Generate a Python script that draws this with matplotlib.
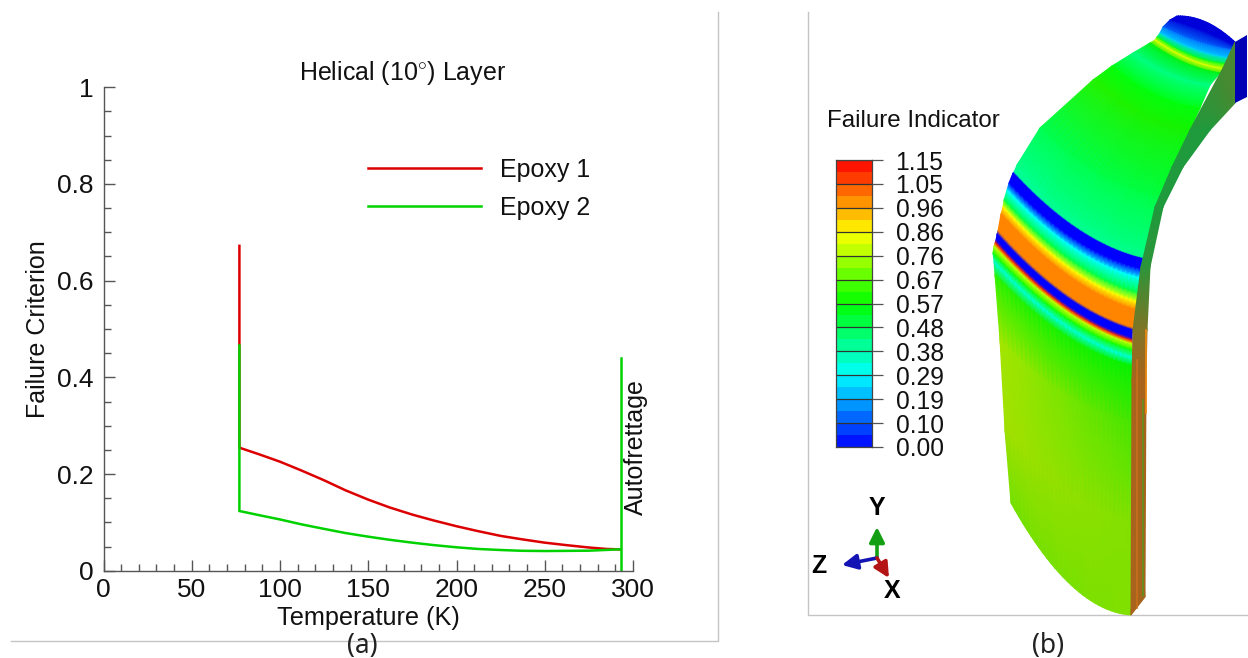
import numpy as np
import matplotlib
matplotlib.use('Agg')
import matplotlib.pyplot as plt
from matplotlib.colors import LinearSegmentedColormap, ListedColormap, BoundaryNorm
from matplotlib.patches import Polygon

plt.rcParams['font.family'] = ['Liberation Sans', 'DejaVu Sans']
plt.rcParams['mathtext.fontset'] = 'custom'
plt.rcParams['mathtext.rm'] = 'Liberation Sans'
plt.rcParams['mathtext.default'] = 'rm'

# === Panel (a) data ===
temp_epoxy1 = [77, 77, 88, 100, 112, 125, 137, 150, 162, 175, 187, 200, 212, 225, 237, 250, 262, 275, 285, 293]
crit_epoxy1 = [0.672, 0.2545, 0.241, 0.2255, 0.2075, 0.187, 0.1665, 0.147, 0.131, 0.116, 0.104, 0.092,
               0.082, 0.072, 0.065, 0.058, 0.053, 0.048, 0.045, 0.044]
temp_epoxy2 = [77, 77, 88, 100, 112, 125, 137, 150, 162, 175, 187, 200, 212, 225, 237, 250, 262, 275, 285, 293]
crit_epoxy2 = [0.466, 0.1235, 0.115, 0.106, 0.096, 0.0865, 0.078, 0.0704, 0.064, 0.058, 0.053, 0.0484,
               0.045, 0.0428, 0.0412, 0.0407, 0.041, 0.0414, 0.043, 0.0443]
temp_autofrettage = [293, 293]
crit_autofrettage = [0.0, 0.44]

x_major = [0, 50, 100, 150, 200, 250, 300]
x_labels = ['0', '50', '100', '150', '200', '250', '300']
y_major = [0, 0.2, 0.4, 0.6, 0.8, 1.0]
y_labels = ['0', '0.2', '0.4', '0.6', '0.8', '1']

# === Panel (b) legend data ===
level_ticks = [0.0, 0.096, 0.192, 0.288, 0.383, 0.479, 0.575, 0.671, 0.767, 0.863, 0.958, 1.054, 1.15]
level_labels = ['0.00', '0.10', '0.19', '0.29', '0.38', '0.48', '0.57', '0.67', '0.76', '0.86', '0.96', '1.05', '1.15']
n_bands = 24

# === Panel (b) rendered part: bands across the outer face, top to bottom ===
# left x, left y, right x, right y, bow of the band, value left, value right, shade
face_rows = [
    (1177, 16, 1235, 42, -7, 0.00, 0.00, 0.85),
    (1170, 20, 1234, 46, -2, 0.00, 0.00, 0.85),
    (1163, 27, 1232, 50, 3, 0.13, 0.13, 1.0),
    (1160, 33, 1229, 58, 4, 0.24, 0.24, 1.0),
    (1157, 37, 1226, 64, 5, 0.55, 0.55, 1.0),
    (1155, 40, 1224, 69, 5, 0.85, 0.85, 1.0),
    (1150, 43, 1220, 73, 5, 0.56, 0.56, 0.95),
    (1133, 53, 1210, 85, 6, 0.42, 0.42, 1.0),
    (1112, 66, 1200, 108, 8, 0.56, 0.56, 1.0),
    (1093, 80, 1190, 130, 10, 0.62, 0.60, 0.95),
    (1040, 128, 1160, 197, 13, 0.48, 0.50, 1.0),
    (1017, 165, 1146, 250, 14, 0.42, 0.43, 1.0),
    (1014, 172, 1144, 258, 14, 0.40, 0.42, 1.0),
    (1013, 173, 1143.5, 259, 14, 0.00, 0.00, 1.0),
    (1009, 183, 1142, 269, 14, 0.00, 0.00, 1.0),
    (1007, 190, 1140, 278, 14, 0.29, 0.29, 1.0),
    (1004, 200, 1139, 293, 14, 0.50, 0.50, 1.0),
    (1003, 207, 1137, 302, 14, 0.86, 0.86, 1.0),
    (1001, 214, 1136, 310, 14, 1.00, 1.00, 1.0),
    (998, 231, 1133, 328, 14, 1.00, 1.00, 1.0),
    (997, 234, 1132.5, 330, 14, 0.00, 0.00, 1.0),
    (996, 240, 1132, 338, 14, 0.00, 0.00, 1.0),
    (995, 243, 1132, 341, 14, 1.10, 1.10, 1.0),
    (994, 246, 1132, 344, 14, 0.80, 0.80, 1.0),
    (993, 253, 1132, 350, 14, 0.60, 0.60, 1.0),
    (994, 262, 1132, 358, 14, 0.33, 0.33, 1.0),
    (995, 275, 1132, 366, 14, 0.62, 0.58, 0.95),
    (1000, 340, 1132, 420, 14, 0.78, 0.66, 0.90),
    (1005, 430, 1131, 520, 16, 0.78, 0.74, 0.88),
    (1011, 503, 1131, 615, 26, 0.72, 0.74, 0.88),
]
# inner x, inner y, outer x, outer y, colour position (0 green, 1 brown)
side_rows = [
    (1235, 42, 1235, 60, 0.3),
    (1223, 68, 1235, 103, 0.3),
    (1190, 130, 1210, 130, 0.0),
    (1172, 167, 1183, 167, 0.0),
    (1155, 207, 1163, 207, 0.0),
    (1141, 267, 1150, 267, 0.1),
    (1133, 330, 1147, 330, 0.7),
    (1132, 380, 1146, 380, 1.0),
    (1131, 615, 1145, 597, 1.0),
]
# x, top y, bottom y, colour of the thin stripes along the side
side_stripes = [
    (1146, 330, 413, '#f08a10'),
    (1143, 400, 596, '#5f8f1e'),
    (1137, 360, 608, '#c8701a'),
]

rainbow = LinearSegmentedColormap.from_list(
    'rainbow_tec',
    [(0.0, '#0000ff'), (0.25, '#00ffff'), (0.5, '#00ff00'), (0.75, '#ffff00'), (1.0, '#ff0000')],
)
side_cmap = LinearSegmentedColormap.from_list('side', ['#1f9a3c', '#a8641c'])

fig = plt.figure(figsize=(12.48, 6.58), dpi=100)

# Full figure canvas in pixels, for the borders, the render and free text
canvas = fig.add_axes([0, 0, 1, 1])
canvas.set_xlim(0, 1248)
canvas.set_ylim(658, 0)
canvas.axis('off')

canvas.plot([718, 718, 11], [12, 641, 641], color='#c4c4c4', lw=1)
canvas.plot([808, 808, 1248], [12, 615, 615], color='#c4c4c4', lw=1)


def band_mesh(rows, n_cols=31):
    rows = np.array(rows, dtype=float)
    s = np.linspace(0, 1, n_cols)[None, :]
    xx = rows[:, [0]] + (rows[:, [2]] - rows[:, [0]]) * s
    yy = rows[:, [1]] + (rows[:, [3]] - rows[:, [1]]) * s + 4 * rows[:, [4]] * s * (1 - s)
    vals = rows[:, [5]] + (rows[:, [6]] - rows[:, [5]]) * s
    rgb = rainbow(vals / 1.15)[..., :3] * rows[:, [7]][..., None]
    return xx, yy, rgb


# === Rendered failure indicator surface ===
xx, yy, rgb = band_mesh(face_rows)
canvas.pcolormesh(xx, yy, rgb, shading='gouraud', zorder=2)

side = np.array(side_rows, dtype=float)
canvas.pcolormesh(side[:, [0, 2]], side[:, [1, 3]], side[:, [4, 4]], cmap=side_cmap, vmin=0, vmax=1,
                  shading='gouraud', zorder=2)
for stripe_x, stripe_top, stripe_bottom, stripe_colour in side_stripes:
    canvas.plot([stripe_x, stripe_x], [stripe_top, stripe_bottom], color=stripe_colour, lw=1.2, zorder=3)
canvas.add_patch(Polygon([(1235, 42), (1247, 35), (1247, 97), (1235, 103)],
                         closed=True, color='#0000b4', lw=0, zorder=3))

# Axis triad
for end, colour in zip([(877, 527), (842, 565), (889, 578)], ['#12a012', '#1414b4', '#b41414']):
    canvas.annotate('', xy=end, xytext=(877, 558), zorder=4,
                    arrowprops=dict(arrowstyle='-|>,head_width=0.45,head_length=0.9',
                                    color=colour, lw=2.6, shrinkA=0, shrinkB=0))
canvas.text(877, 508, 'Y', fontsize=18, fontweight='bold', ha='center', va='center')
canvas.text(819, 566, 'Z', fontsize=18, fontweight='bold', ha='center', va='center')
canvas.text(892, 591, 'X', fontsize=18, fontweight='bold', ha='center', va='center')

canvas.text(913, 121, 'Failure Indicator', fontsize=17.4, color='#111111', ha='center', va='center')

# Panel captions and free labels
canvas.text(362, 646, '(a)', family='Noto Sans', fontsize=19, color='#222222', ha='center', va='center')
canvas.text(1048, 646, '(b)', family='Noto Sans', fontsize=19, color='#222222', ha='center', va='center')
canvas.text(403, 73, r'Helical (10$^{\circ}$) Layer', fontsize=18, color='#111111', ha='center', va='center')
canvas.text(636, 447, 'Autofrettage', fontsize=18, color='#111111', rotation=90, ha='center', va='center')

# === Panel (a) chart ===
ax = fig.add_axes([103.5 / 1248, 1 - 570.7 / 658, (633 - 103.5) / 1248, (570.7 - 87.3) / 658])
ax.patch.set_alpha(0)
ax.plot(temp_epoxy1, crit_epoxy1, color='#dc0000', lw=1.8, label='Epoxy 1', solid_joinstyle='miter')
ax.plot(temp_epoxy2, crit_epoxy2, color='#00d200', lw=1.8, label='Epoxy 2', solid_joinstyle='miter')
ax.plot(temp_autofrettage, crit_autofrettage, color='#00d200', lw=1.8)
ax.set_xlim(0, 300)
ax.set_ylim(0, 1)
ax.spines['top'].set_visible(False)
ax.spines['right'].set_visible(False)
for side_name in ['left', 'bottom']:
    ax.spines[side_name].set_color('#555555')
    ax.spines[side_name].set_linewidth(1)
ax.set_xticks(x_major, x_labels)
ax.set_yticks(y_major, y_labels)
ax.set_xticks(np.arange(0, 301, 10), minor=True)
ax.set_yticks(np.arange(0, 1.001, 0.05), minor=True)
ax.tick_params(which='major', direction='in', length=8, width=1, color='#555555',
               labelsize=19, labelcolor='#111111')
ax.tick_params(which='minor', direction='in', length=5, width=1, color='#555555')
ax.tick_params(axis='x', which='major', pad=5)
ax.tick_params(axis='y', which='major', pad=7)
ax.set_xlabel('Temperature (K)', fontsize=18.2, color='#111111', va='center')
ax.set_ylabel('Failure Criterion', fontsize=18, color='#111111', va='center')
ax.xaxis.set_label_coords(368, 618, transform=canvas.transData)
ax.yaxis.set_label_coords(38, 329, transform=canvas.transData)
ax.legend(frameon=False, loc='upper left', bbox_to_anchor=(368, 158), bbox_transform=canvas.transData,
          fontsize=18, handlelength=4.5, handletextpad=0.76, labelspacing=0.55,
          borderpad=0, borderaxespad=0, labelcolor='#111111')

# === Panel (b) contour legend ===
cax = fig.add_axes([836 / 1248, 1 - 447 / 658, 36 / 1248, 287 / 658])
edges = np.linspace(0, 1.15, n_bands + 1)
band_colours = rainbow((edges[:-1] + edges[1:]) / 2 / 1.15)
cax.pcolormesh([0, 1], edges, ((edges[:-1] + edges[1:]) / 2)[:, None],
               cmap=ListedColormap(band_colours), norm=BoundaryNorm(edges, n_bands))
cax.hlines(level_ticks, 0, 1, color='#333333', lw=0.9)
cax.set_xlim(0, 1)
cax.set_ylim(0, 1.15)
cax.set_xticks([])
cax.yaxis.tick_right()
cax.set_yticks(level_ticks, level_labels)
cax.tick_params(axis='y', direction='out', length=8, width=0.9, color='#555555', pad=9,
                labelsize=17.7, labelcolor='#111111')
for spine in cax.spines.values():
    spine.set_color('#444444')
    spine.set_linewidth(0.9)

fig.savefig('out.png', dpi=100)
